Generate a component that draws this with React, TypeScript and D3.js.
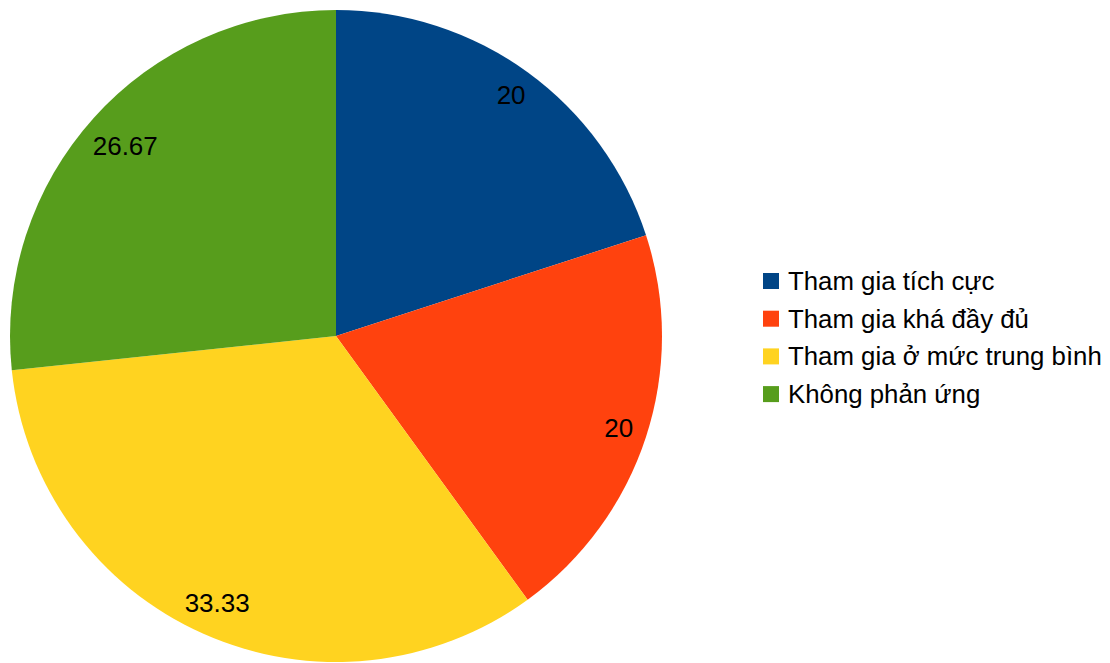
import React from "react";
import * as d3 from "d3";

const categories = ["Tham gia tích cực", "Tham gia khá đầy đủ", "Tham gia ở mức trung bình", "Không phản ứng"];
const values = [20, 20, 33.33, 26.67];
const labels = ["20", "20", "33.33", "26.67"];
const colors = ["#004586", "#ff420e", "#ffd320", "#579d1c"];

const W = 1110;
const H = 663;
const cx = 336;
const cy = 336;
const R = 326;
const labelFont = 26;
const legendFont = 25.8;

function textWidth(s: string, fs: number) {
  let w = 0;
  for (const ch of s) w += ch === "." ? 0.278 : 0.556;
  return w * fs;
}

export default function App() {
  const pie = d3.pie<number>().sort(null).startAngle(0).endAngle(2 * Math.PI)(values);
  const arc = d3.arc<d3.PieArcDatum<number>>().innerRadius(0).outerRadius(R);
  const pad = 12;
  return (
    <svg width={W} height={H} style={{ position: "absolute", left: 0, top: 0, background: "#fff" }}
      fontFamily="'Liberation Sans', Arial, sans-serif">
      <g transform={`translate(${cx},${cy})`}>
        {pie.map((d, i) => (
          <path key={i} d={arc(d) || ""} fill={colors[i]} />
        ))}
        {pie.map((d, i) => {
          const a = (d.startAngle + d.endAngle) / 2;
          const s = Math.sin(a);
          const c = -Math.cos(a);
          const tw = textWidth(labels[i], labelFont);
          const th = labelFont * 0.72;
          const proj = (tw / 2) * Math.abs(s) + (th / 2) * Math.abs(c);
          const r = R - pad - proj;
          return (
            <text key={i} x={r * s} y={r * c} textAnchor="middle" dominantBaseline="central"
              fontSize={labelFont} fill="#000">
              {labels[i]}
            </text>
          );
        })}
      </g>
      <g>
        {categories.map((cat, i) => {
          const y = 273 + i * 37.7;
          return (
            <g key={i}>
              <rect x={763} y={y} width={16} height={16} fill={colors[i]} />
              <text x={788} y={y + 8} dominantBaseline="central" fontSize={legendFont} fill="#000">
                {cat}
              </text>
            </g>
          );
        })}
      </g>
    </svg>
  );
}
